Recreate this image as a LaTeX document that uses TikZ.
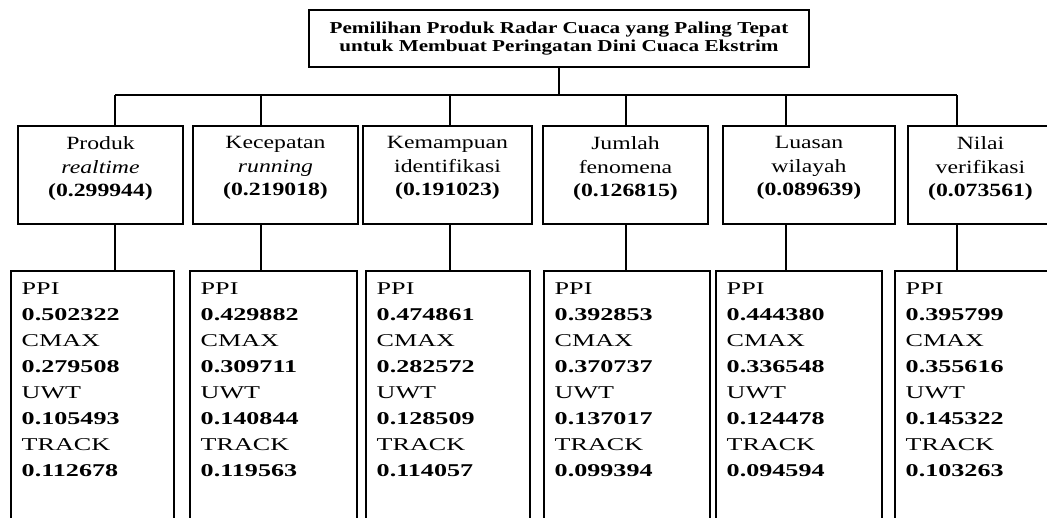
\documentclass[tikz,border=0pt]{standalone}
\usepackage{fontspec}
\setmainfont{Liberation Serif}[FakeStretch=1.27]
\newfontfamily\bobotfont{Liberation Serif}[FakeStretch=1.45]
\usepackage{tikz}
\usetikzlibrary{positioning}
\newcommand{\judulfont}{\fontsize{12.5}{13.5}\selectfont\bfseries}
\newcommand{\kritfont}{\fontsize{14}{17.6}\selectfont}
\newcommand{\altfont}{\bobotfont\fontsize{13.5}{19.5}\selectfont}

\begin{document}
\begin{tikzpicture}[x=0.75pt, y=-0.75pt, every node/.style={align=center},
  kotak/.style={draw, line width=0.8pt, inner sep=0pt},
  teks/.style={inner sep=0pt},
  garis/.style={line width=1.5pt}]
  \useasboundingbox (0,0) rectangle (1047,518);
  \clip (0,0) rectangle (1047,518);
  % tujuan
  \node[kotak, minimum width=375pt, minimum height=42.75pt, font=\judulfont] (goal) at (559,38.5) {Pemilihan Produk Radar Cuaca yang Paling Tepat\\untuk Membuat Peringatan Dini Cuaca Ekstrim};
  % kriteria
  \node[kotak, minimum width=123.75pt, minimum height=73.5pt] (k1) at (100.5,175) {};
  \node[kotak, minimum width=123.75pt, minimum height=73.5pt] (k2) at (275.5,175) {};
  \node[kotak, minimum width=126.75pt, minimum height=73.5pt] (k3) at (447.5,175) {};
  \node[kotak, minimum width=123.75pt, minimum height=73.5pt] (k4) at (625.5,175) {};
  \node[kotak, minimum width=129pt, minimum height=73.5pt] (k5) at (809,175) {};
  \node[kotak, minimum width=108.75pt, minimum height=73.5pt] (k6) at (980.5,175) {};
  \node[teks, below=8.25pt of k1.north, font=\kritfont] (tk1) {Produk\\\textit{realtime}\\\textbf{(0.299944)}};
  \node[teks, below=8.25pt of k2.north, font=\kritfont] (tk2) {Kecepatan\\\textit{running}\\\textbf{(0.219018)}};
  \node[teks, below=8.25pt of k3.north, font=\kritfont] (tk3) {Kemampuan\\identifikasi\\\textbf{(0.191023)}};
  \node[teks, below=8.25pt of k4.north, font=\kritfont] (tk4) {Jumlah\\fenomena\\\textbf{(0.126815)}};
  \node[teks, below=8.25pt of k5.north, font=\kritfont] (tk5) {Luasan\\wilayah\\\textbf{(0.089639)}};
  \node[teks, below=8.25pt of k6.north, font=\kritfont] (tk6) {Nilai\\verifikasi\\\textbf{(0.073561)}};
  % alternatif
  \node[kotak, minimum width=122.25pt, minimum height=205.5pt] (b1) at (92.5,408) {};
  \node[kotak, minimum width=125.25pt, minimum height=205.5pt] (b2) at (273.5,408) {};
  \node[kotak, minimum width=123pt, minimum height=205.5pt] (b3) at (448,408) {};
  \node[kotak, minimum width=124.5pt, minimum height=205.5pt] (b4) at (627,408) {};
  \node[kotak, minimum width=124.5pt, minimum height=205.5pt] (b5) at (799,408) {};
  \node[kotak, minimum width=123.75pt, minimum height=205.5pt] (b6) at (977.5,408) {};
  \node[teks, align=left, below right=9pt and 8.25pt of b1.north west, font=\altfont] (tb1) {PPI\\\textbf{0.502322}\\CMAX\\\textbf{0.279508}\\UWT\\\textbf{0.105493}\\TRACK\\\textbf{0.112678}};
  \node[teks, align=left, below right=9pt and 8.25pt of b2.north west, font=\altfont] (tb2) {PPI\\\textbf{0.429882}\\CMAX\\\textbf{0.309711}\\UWT\\\textbf{0.140844}\\TRACK\\\textbf{0.119563}};
  \node[teks, align=left, below right=9pt and 8.25pt of b3.north west, font=\altfont] (tb3) {PPI\\\textbf{0.474861}\\CMAX\\\textbf{0.282572}\\UWT\\\textbf{0.128509}\\TRACK\\\textbf{0.114057}};
  \node[teks, align=left, below right=9pt and 8.25pt of b4.north west, font=\altfont] (tb4) {PPI\\\textbf{0.392853}\\CMAX\\\textbf{0.370737}\\UWT\\\textbf{0.137017}\\TRACK\\\textbf{0.099394}};
  \node[teks, align=left, below right=9pt and 8.25pt of b5.north west, font=\altfont] (tb5) {PPI\\\textbf{0.444380}\\CMAX\\\textbf{0.336548}\\UWT\\\textbf{0.124478}\\TRACK\\\textbf{0.094594}};
  \node[teks, align=left, below right=9pt and 8.25pt of b6.north west, font=\altfont] (tb6) {PPI\\\textbf{0.395799}\\CMAX\\\textbf{0.355616}\\UWT\\\textbf{0.145322}\\TRACK\\\textbf{0.103263}};
  % garis penghubung
  \coordinate (bar) at (559,95);
  \coordinate (s1) at (115,95);
  \coordinate (s2) at (261,95);
  \coordinate (s3) at (450,95);
  \coordinate (s4) at (626,95);
  \coordinate (s5) at (786,95);
  \coordinate (s6) at (957,95);
  \draw[garis] (goal) -- (bar);
  \draw[garis] (s1) -- (s6);
  \draw[garis] (s1) -- (s1 |- k1.north);
  \draw[garis] (s2) -- (s2 |- k2.north);
  \draw[garis] (s3) -- (s3 |- k3.north);
  \draw[garis] (s4) -- (s4 |- k4.north);
  \draw[garis] (s5) -- (s5 |- k5.north);
  \draw[garis] (s6) -- (s6 |- k6.north);
  \draw[garis] (s1 |- k1.south) -- (s1 |- b1.north);
  \draw[garis] (s2 |- k2.south) -- (s2 |- b2.north);
  \draw[garis] (s3 |- k3.south) -- (s3 |- b3.north);
  \draw[garis] (s4 |- k4.south) -- (s4 |- b4.north);
  \draw[garis] (s5 |- k5.south) -- (s5 |- b5.north);
  \draw[garis] (s6 |- k6.south) -- (s6 |- b6.north);
\end{tikzpicture}
\end{document}
